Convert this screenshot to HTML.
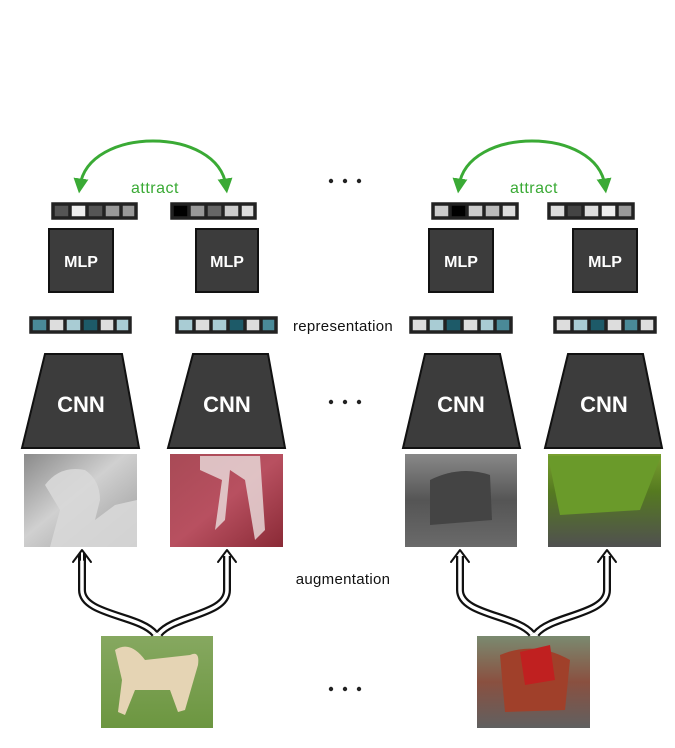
<!DOCTYPE html>
<html><head><meta charset="utf-8"><style>
html,body{margin:0;padding:0;background:#fff;}
svg{display:block;}
text{font-family:"Liberation Sans",sans-serif;}
</style></head><body>
<svg width="675" height="748" viewBox="0 0 675 748" xmlns="http://www.w3.org/2000/svg">
<defs>
<marker id="ga" viewBox="0 0 10 10" refX="5" refY="5" markerWidth="5" markerHeight="5" orient="auto-start-reverse"><path d="M0,0 L10,5 L0,10 z" fill="#3aaa35"/></marker>
<linearGradient id="g1" x1="0" y1="0" x2="1" y2="1"><stop offset="0" stop-color="#8a8a8a"/><stop offset="0.45" stop-color="#d0d0d0"/><stop offset="1" stop-color="#9a9a9a"/></linearGradient>
<linearGradient id="g2" x1="0" y1="0" x2="1" y2="1"><stop offset="0" stop-color="#a84a56"/><stop offset="0.5" stop-color="#b85060"/><stop offset="1" stop-color="#8a2a36"/></linearGradient>
<linearGradient id="g3" x1="0" y1="0" x2="0" y2="1"><stop offset="0" stop-color="#888"/><stop offset="0.5" stop-color="#555"/><stop offset="1" stop-color="#6a6a6a"/></linearGradient>
<linearGradient id="g4" x1="0" y1="0" x2="0" y2="1"><stop offset="0" stop-color="#7aa030"/><stop offset="0.4" stop-color="#557a20"/><stop offset="1" stop-color="#505050"/></linearGradient>
<linearGradient id="g5" x1="0" y1="0" x2="0" y2="1"><stop offset="0" stop-color="#86a860"/><stop offset="1" stop-color="#6c9640"/></linearGradient>
<linearGradient id="g6" x1="0" y1="0" x2="0" y2="1"><stop offset="0" stop-color="#7a8a70"/><stop offset="0.5" stop-color="#8a5040"/><stop offset="1" stop-color="#606060"/></linearGradient>
</defs>

<path d="M80,186 C88,126 218,126 226,186" fill="none" stroke="#3aaa35" stroke-width="3" marker-start="url(#ga)" marker-end="url(#ga)"/>
<path d="M459,186 C467,126 597,126 605,186" fill="none" stroke="#3aaa35" stroke-width="3" marker-start="url(#ga)" marker-end="url(#ga)"/>
<text x="155" y="193" font-size="16" fill="#3aaa35" text-anchor="middle" letter-spacing="0.5">attract</text>
<text x="534" y="193" font-size="16" fill="#3aaa35" text-anchor="middle" letter-spacing="0.5">attract</text>

<g fill="#222"><circle cx="331" cy="181" r="2.2"/><circle cx="345" cy="181" r="2.2"/><circle cx="359" cy="181" r="2.2"/>
<circle cx="331" cy="402" r="2.2"/><circle cx="345" cy="402" r="2.2"/><circle cx="359" cy="402" r="2.2"/>
<circle cx="331" cy="689" r="2.2"/><circle cx="345" cy="689" r="2.2"/><circle cx="359" cy="689" r="2.2"/></g>

<g stroke="#222" stroke-width="1.5">
<rect x="52" y="203" width="85" height="16" fill="#222"/>
<rect x="54" y="205" width="15" height="12" fill="#555"/><rect x="71" y="205" width="15" height="12" fill="#eee"/><rect x="88" y="205" width="15" height="12" fill="#555"/><rect x="105" y="205" width="15" height="12" fill="#999"/><rect x="122" y="205" width="13" height="12" fill="#999"/>
<rect x="171" y="203" width="85" height="16" fill="#222"/>
<rect x="173" y="205" width="15" height="12" fill="#000"/><rect x="190" y="205" width="15" height="12" fill="#999"/><rect x="207" y="205" width="15" height="12" fill="#666"/><rect x="224" y="205" width="15" height="12" fill="#ccc"/><rect x="241" y="205" width="13" height="12" fill="#ddd"/>
<rect x="432" y="203" width="86" height="16" fill="#222"/>
<rect x="434" y="205" width="15" height="12" fill="#ccc"/><rect x="451" y="205" width="15" height="12" fill="#000"/><rect x="468" y="205" width="15" height="12" fill="#ccc"/><rect x="485" y="205" width="15" height="12" fill="#bbb"/><rect x="502" y="205" width="14" height="12" fill="#ddd"/>
<rect x="548" y="203" width="86" height="16" fill="#222"/>
<rect x="550" y="205" width="15" height="12" fill="#ddd"/><rect x="567" y="205" width="15" height="12" fill="#444"/><rect x="584" y="205" width="15" height="12" fill="#ddd"/><rect x="601" y="205" width="15" height="12" fill="#eee"/><rect x="618" y="205" width="14" height="12" fill="#999"/>
</g>

<g fill="#3c3c3c" stroke="#111" stroke-width="2">
<rect x="49" y="229" width="64" height="63"/><rect x="196" y="229" width="62" height="63"/>
<rect x="429" y="229" width="64" height="63"/><rect x="573" y="229" width="64" height="63"/>
</g>
<g font-size="16" font-weight="bold" fill="#fff" text-anchor="middle">
<text x="81" y="267">MLP</text><text x="227" y="267">MLP</text><text x="461" y="267">MLP</text><text x="605" y="267">MLP</text>
</g>

<g stroke="#222" stroke-width="1.5">
<rect x="30" y="317" width="101" height="16" fill="#222"/>
<rect x="32" y="319" width="15" height="12" fill="#4a8a98"/><rect x="49" y="319" width="15" height="12" fill="#ddd"/><rect x="66" y="319" width="15" height="12" fill="#a9ccd4"/><rect x="83" y="319" width="15" height="12" fill="#1d5a68"/><rect x="100" y="319" width="14" height="12" fill="#ddd"/><rect x="116" y="319" width="13" height="12" fill="#a9ccd4"/>
<rect x="176" y="317" width="101" height="16" fill="#222"/>
<rect x="178" y="319" width="15" height="12" fill="#a9ccd4"/><rect x="195" y="319" width="15" height="12" fill="#ddd"/><rect x="212" y="319" width="15" height="12" fill="#a9ccd4"/><rect x="229" y="319" width="15" height="12" fill="#1d5a68"/><rect x="246" y="319" width="14" height="12" fill="#ddd"/><rect x="262" y="319" width="13" height="12" fill="#4a8a98"/>
<rect x="410" y="317" width="102" height="16" fill="#222"/>
<rect x="412" y="319" width="15" height="12" fill="#ddd"/><rect x="429" y="319" width="15" height="12" fill="#a9ccd4"/><rect x="446" y="319" width="15" height="12" fill="#1d5a68"/><rect x="463" y="319" width="15" height="12" fill="#ddd"/><rect x="480" y="319" width="14" height="12" fill="#a9ccd4"/><rect x="496" y="319" width="14" height="12" fill="#4a8a98"/>
<rect x="554" y="317" width="102" height="16" fill="#222"/>
<rect x="556" y="319" width="15" height="12" fill="#ddd"/><rect x="573" y="319" width="15" height="12" fill="#a9ccd4"/><rect x="590" y="319" width="15" height="12" fill="#1d5a68"/><rect x="607" y="319" width="15" height="12" fill="#ddd"/><rect x="624" y="319" width="14" height="12" fill="#4a8a98"/><rect x="640" y="319" width="14" height="12" fill="#ddd"/>
</g>
<text x="343" y="331" font-size="15" fill="#111" text-anchor="middle" letter-spacing="0.3">representation</text>

<g fill="#3c3c3c" stroke="#111" stroke-width="2">
<polygon points="45,354 122,354 139,448 22,448"/>
<polygon points="193,354 268,354 285,448 168,448"/>
<polygon points="425,354 500,354 520,448 403,448"/>
<polygon points="568,354 643,354 662,448 545,448"/>
</g>
<g font-size="22" font-weight="bold" fill="#fff" text-anchor="middle">
<text x="81" y="412">CNN</text><text x="227" y="412">CNN</text><text x="461" y="412">CNN</text><text x="604" y="412">CNN</text>
</g>

<rect x="24" y="454" width="113" height="93" fill="url(#g1)"/>
<path d="M45,485 Q60,465 85,470 Q100,480 100,500 L95,520 L115,505 L137,500 L137,547 L50,547 L60,510 z" fill="#d8d8d8" opacity="0.9"/>
<rect x="170" y="454" width="113" height="93" fill="url(#g2)"/>
<path d="M200,456 L260,456 L265,530 L255,540 L245,480 L230,470 L225,520 L215,530 L222,480 L200,470 z" fill="#e6d6d6" opacity="0.85"/>
<rect x="405" y="454" width="112" height="93" fill="url(#g3)"/>
<path d="M430,480 Q460,465 490,475 L492,520 L430,525 z" fill="#444"/>
<rect x="548" y="454" width="113" height="93" fill="url(#g4)"/>
<path d="M548,456 L661,456 L640,510 L560,515 z" fill="#6a9a2a"/>

<rect x="101" y="636" width="112" height="92" fill="url(#g5)"/>
<path d="M115,650 Q130,640 145,660 L190,655 Q200,650 198,665 L185,710 L178,712 L170,690 L135,690 L125,715 L118,712 L122,680 z" fill="#e5d4b4"/>
<rect x="477" y="636" width="113" height="92" fill="url(#g6)"/>
<path d="M500,655 Q535,640 570,660 L565,710 L505,712 z" fill="#a0402a"/>
<path d="M520,652 L550,645 L555,680 L525,685 z" fill="#c02020"/>

<text x="343" y="584" font-size="15" fill="#111" text-anchor="middle" letter-spacing="0.3">augmentation</text>

<g fill="none" stroke-linejoin="round">
<g stroke="#111" stroke-width="8">
<path d="M155,634 C140,615 82,615 82,590 L82,556"/>
<path d="M159,634 C174,615 227,615 227,590 L227,556"/>
<path d="M532,634 C517,615 460,615 460,590 L460,556"/>
<path d="M536,634 C551,615 607,615 607,590 L607,556"/>
</g>
<g stroke="#fff" stroke-width="3.5">
<path d="M155,634 C140,615 82,615 82,590 L82,553"/>
<path d="M159,634 C174,615 227,615 227,590 L227,553"/>
<path d="M532,634 C517,615 460,615 460,590 L460,553"/>
<path d="M536,634 C551,615 607,615 607,590 L607,553"/>
</g>
<g stroke="#111" stroke-width="2" stroke-linecap="round">
<path d="M73,562 L82,550 L91,562"/><path d="M218,562 L227,550 L236,562"/>
<path d="M451,562 L460,550 L469,562"/><path d="M598,562 L607,550 L616,562"/>
<path d="M80,553 L80,560 M84,553 L84,560"/>
</g>
</g>
</svg>
</body></html>
